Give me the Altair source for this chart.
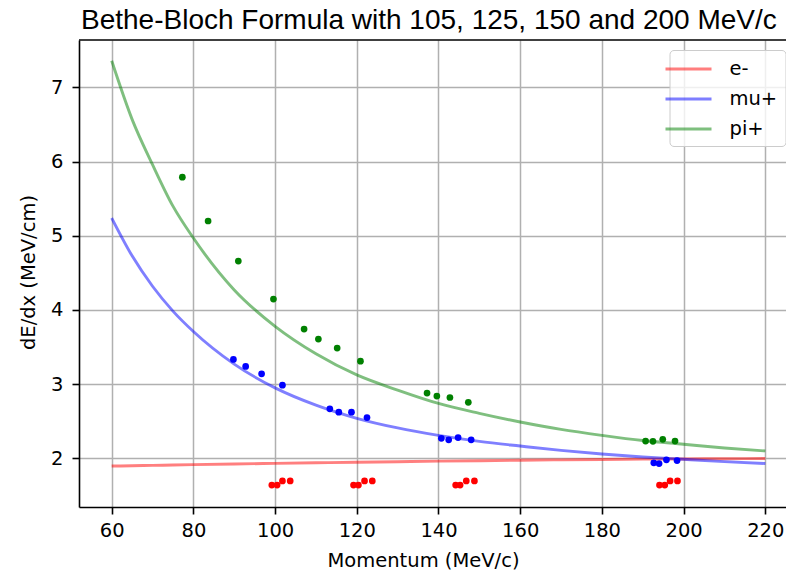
import altair as alt
import pandas as pd

# ---- data ----
curve_momentum = [60, 65, 70, 75, 80, 90, 100, 110, 120, 130, 140, 150, 160, 170, 180, 190, 200, 210, 220]
curve_e = [1.896, 1.900, 1.905, 1.910, 1.915, 1.924, 1.932, 1.940, 1.948, 1.955, 1.962, 1.968, 1.974, 1.980, 1.985, 1.989, 1.992, 1.995, 1.998]
curve_mu = [5.24, 4.73, 4.32, 3.985, 3.71, 3.27, 2.95, 2.717, 2.54, 2.41, 2.31, 2.229, 2.166, 2.107, 2.058, 2.019, 1.987, 1.956, 1.93]
curve_pi = [7.36, 6.57, 5.96, 5.40, 4.97, 4.27, 3.78, 3.41, 3.125, 2.92, 2.74, 2.607, 2.49, 2.39, 2.31, 2.24, 2.19, 2.14, 2.10]

e_pts_x = [99.2, 100.5, 101.8, 103.7, 119.2, 120.4, 121.9, 123.8, 144.2, 145.3, 146.8, 148.8, 194.1, 195.4, 196.7, 198.5]
e_pts_y = [1.64, 1.64, 1.695, 1.695, 1.64, 1.64, 1.695, 1.695, 1.64, 1.64, 1.695, 1.695, 1.64, 1.64, 1.695, 1.695]
mu_pts_x = [89.8, 92.8, 96.7, 101.8, 113.4, 115.6, 118.7, 122.5, 140.7, 142.5, 144.8, 148.0, 192.7, 194.0, 195.8, 198.4]
mu_pts_y = [3.333, 3.239, 3.14, 2.987, 2.667, 2.622, 2.622, 2.55, 2.27, 2.25, 2.28, 2.25, 1.94, 1.93, 1.98, 1.97]
pi_pts_x = [77.3, 83.6, 91.0, 99.6, 107.1, 110.6, 115.2, 120.9, 137.2, 139.6, 142.8, 147.3, 190.7, 192.5, 194.9, 197.9]
pi_pts_y = [5.79, 5.20, 4.66, 4.147, 3.743, 3.608, 3.487, 3.31, 2.88, 2.84, 2.82, 2.755, 2.233, 2.229, 2.256, 2.233]

species = ["e-", "mu+", "pi+"]
colors = ["#ff0000", "#0000ff", "#008000"]
x_ticks = [60, 80, 100, 120, 140, 160, 180, 200, 220]
y_ticks = [2, 3, 4, 5, 6, 7]
title_text = "Bethe-Bloch Formula with 105, 125, 150 and 200 MeV/c"

curves = pd.DataFrame({
    "momentum": curve_momentum * 3,
    "dedx": curve_e + curve_mu + curve_pi,
    "species": ["e-"] * len(curve_e) + ["mu+"] * len(curve_mu) + ["pi+"] * len(curve_pi),
})
points = pd.DataFrame({
    "momentum": e_pts_x + mu_pts_x + pi_pts_x,
    "dedx": e_pts_y + mu_pts_y + pi_pts_y,
    "species": ["e-"] * len(e_pts_x) + ["mu+"] * len(mu_pts_x) + ["pi+"] * len(pi_pts_x),
})

W, H = 707, 467
xscale = alt.Scale(domain=[52, 225.07], nice=False, zero=False)
yscale = alt.Scale(domain=[1.344, 7.64], nice=False, zero=False)

x_enc = alt.X("momentum:Q", scale=xscale, title="Momentum (MeV/c)",
              axis=alt.Axis(values=x_ticks, titleX=344, titleY=59, titleAlign="center",
                            titleBaseline="alphabetic", labelPadding=7))
y_enc = alt.Y("dedx:Q", scale=yscale, title="dE/dx (MeV/cm)",
              axis=alt.Axis(values=y_ticks, titleX=-45, titleY=232, titleAlign="center",
                            titleBaseline="alphabetic", titleAngle=270, labelPadding=9))

lines = alt.Chart(curves).mark_line(strokeWidth=2.9, opacity=0.5, interpolate="monotone").encode(
    x=x_enc, y=y_enc,
    color=alt.Color("species:N", scale=alt.Scale(domain=species, range=colors),
                    legend=alt.Legend(title=None, orient="none", legendX=590.5, legendY=10,
                                      symbolType="M-2.36,0H2.36", symbolSize=380, symbolStrokeWidth=2.9,
                                      symbolOpacity=0.5, labelFontSize=19.5, labelFont="DejaVu Sans",
                                      labelColor="black", labelOffset=29.5, rowPadding=9, padding=7.5,
                                      fillColor="rgba(255,255,255,0.8)", strokeColor="#cccccc",
                                      cornerRadius=4)),
    detail="species:N",
)

dots = alt.Chart(points).mark_circle(size=45, opacity=1).encode(
    x=x_enc, y=y_enc,
    color=alt.Color("species:N", scale=alt.Scale(domain=species, range=colors), legend=None),
)

top_spine = alt.Chart(pd.DataFrame({"v": [0]})).mark_rule(color="black", strokeWidth=1.6).encode(
    x=alt.value(0), x2=alt.value(W), y=alt.value(0)
)

title = alt.Chart(pd.DataFrame({"t": [title_text]})).mark_text(
    font="Liberation Sans", fontSize=28, align="left", baseline="alphabetic", color="black"
).encode(text="t:N", x=alt.value(2), y=alt.value(-10.7))

chart = alt.layer(lines, dots, top_spine, title).resolve_scale(color="independent").properties(
    width=W, height=H,
    autosize=alt.AutoSizeParams(type="none"),
    padding={"left": 71, "top": 32, "right": 0, "bottom": 63},
).configure_axis(
    labelFont="DejaVu Sans", labelFontSize=19.5, labelColor="black",
    titleFont="DejaVu Sans", titleFontSize=19.5, titleFontWeight="normal", titleColor="black",
    grid=True, gridColor="#b0b0b0", gridWidth=1.5,
    domainColor="black", domainWidth=1.6, tickColor="black", tickWidth=1.6, tickSize=7,
).configure_view(strokeWidth=0)

chart.save("out.html", embed_options={"renderer": "svg", "actions": False})
